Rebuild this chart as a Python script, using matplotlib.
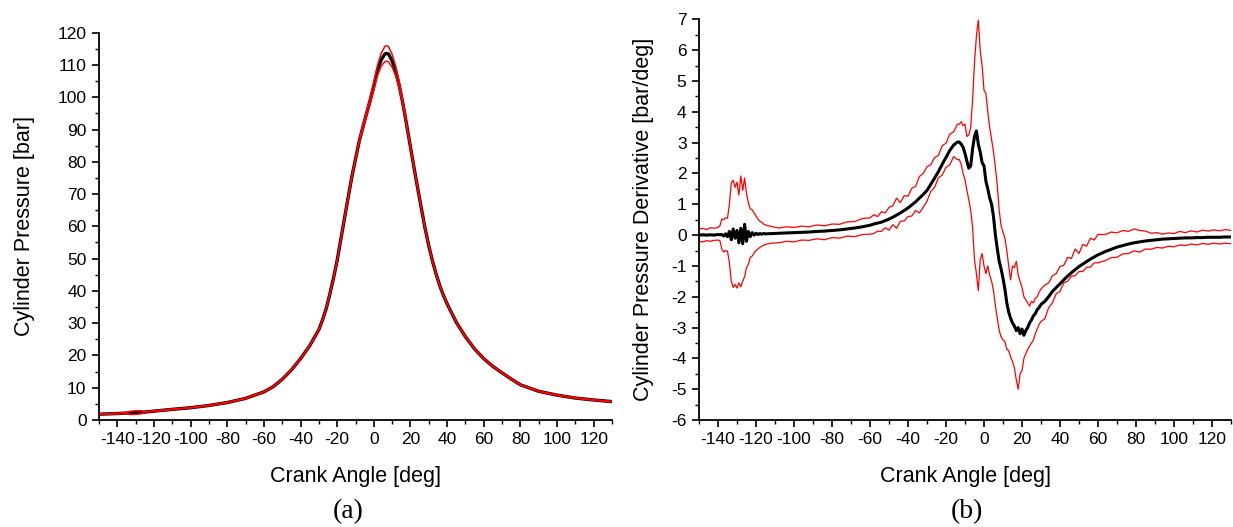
import matplotlib
matplotlib.use("Agg")
import matplotlib.pyplot as plt
from matplotlib.ticker import MultipleLocator

plt.rcParams['font.family'] = ['Liberation Sans', 'DejaVu Sans']
plt.rcParams['axes.unicode_minus'] = False

# ---------------- (a) cylinder pressure ----------------
p_angle = [-150, -140, -135, -133, -130, -127, -125, -120, -110, -100, -90, -80, -70, -60, -55, -50,
           -45, -40, -35, -30, -28, -26, -24, -22, -20, -18, -16, -14, -12, -10, -8, -5, -2, 0, 2, 4,
           6, 7, 8, 10, 12, 14, 16, 18, 20, 22, 24, 26, 28, 30, 32, 34, 36, 38, 40, 45, 50, 55, 60,
           65, 70, 75, 80, 90, 100, 110, 120, 130]
p_mean = [1.8, 2.0, 2.15, 2.2, 2.3, 2.4, 2.45, 2.75, 3.3, 3.8, 4.5, 5.4, 6.7, 8.7, 10.3, 12.6,
          15.5, 19.0, 23.0, 28.0, 31.0, 34.5, 39.0, 44.0, 49.5, 56.0, 62.5, 69.0, 75.3, 80.8, 86.3,
          92.8, 99.0, 103.5, 108.3, 111.6, 113.4, 113.6, 113.4, 111.3, 108.0, 103.3, 97.6, 91.2,
          84.6, 78.0, 71.6, 65.4, 59.3, 54.0, 49.3, 45.2, 41.6, 38.6, 36.0, 30.3, 25.8, 22.0, 19.0,
          16.6, 14.6, 12.7, 10.9, 8.9, 7.7, 6.8, 6.2, 5.7]
p_upper = [1.9, 2.1, 2.25, 2.7, 2.85, 2.9, 2.55, 2.85, 3.4, 3.9, 4.6, 5.5, 6.8, 8.8, 10.4, 12.7,
           15.6, 19.1, 23.1, 28.1, 31.1, 34.6, 39.1, 44.1, 49.6, 56.1, 62.7, 69.2, 75.6, 81.2, 86.8,
           93.6, 100.0, 104.7, 109.9, 113.6, 115.7, 116.0, 115.7, 113.3, 109.5, 104.3, 98.4, 91.8,
           85.1, 78.4, 71.9, 65.6, 59.5, 54.2, 49.4, 45.3, 41.7, 38.7, 36.1, 30.4, 25.9, 22.1, 19.1,
           16.7, 14.7, 12.8, 11.0, 9.0, 7.8, 6.9, 6.3, 5.8]
p_lower = [1.7, 1.9, 2.05, 1.7, 1.75, 1.9, 2.35, 2.65, 3.2, 3.7, 4.4, 5.3, 6.6, 8.6, 10.2, 12.5,
           15.4, 18.9, 22.9, 27.9, 30.9, 34.4, 38.9, 43.9, 49.4, 55.9, 62.3, 68.8, 75.0, 80.4, 85.8,
           92.0, 98.0, 102.3, 106.7, 109.6, 111.0, 111.2, 111.0, 109.3, 106.5, 102.3, 96.8, 90.6,
           84.1, 77.6, 71.3, 65.2, 59.1, 53.8, 49.2, 45.1, 41.5, 38.5, 35.9, 30.2, 25.7, 21.9, 18.9,
           16.5, 14.5, 12.6, 10.8, 8.8, 7.6, 6.7, 6.1, 5.6]

# ---------------- (b) pressure derivative ----------------
d_angle = [-150, -148, -146, -144, -142, -140,
           -139, -138, -137, -136, -135, -134, -133, -132, -131, -130, -129, -128, -127, -126,
           -125, -124, -123, -122, -121, -120, -119, -118, -117, -116, -115,
           -112, -108, -104, -100, -96, -92, -88, -84, -80, -76, -72, -68, -64, -60,
           -58, -56, -54, -52, -50, -48, -46, -44, -42, -40, -38, -36, -34, -32, -30, -28, -26,
           -24, -22, -20, -18, -16, -14,
           -13, -12, -11, -10, -9, -8, -7, -6, -5, -4, -3, -2, -1, 0, 1, 2, 3, 4, 5, 6, 7, 8, 9,
           10, 11, 12, 13, 14, 15, 16, 17, 18, 19, 20, 21, 22, 23, 24, 25, 26, 27, 28, 29, 30,
           32, 34, 36, 38, 40, 42, 44, 46, 48, 50, 52, 54, 56, 58, 60,
           64, 67, 70, 73, 76, 79, 82, 85, 88, 91, 94, 97, 100, 103, 106, 109, 112, 115, 118, 121,
           124, 127, 130]
d_mean = [0.0, 0.01, 0.0, 0.01, 0.0, 0.02,
          0.01, 0.02, -0.03, 0.04, -0.05, 0.12, -0.15, 0.2, -0.1, 0.15, -0.25, 0.22, -0.28, 0.35,
          -0.2, 0.12, -0.05, 0.08, 0.0, 0.06, 0.02, 0.05, 0.03, 0.05, 0.04,
          0.05, 0.06, 0.07, 0.08, 0.09, 0.1, 0.12, 0.13, 0.15, 0.17, 0.2, 0.23, 0.27, 0.32,
          0.36, 0.39, 0.42, 0.47, 0.52, 0.58, 0.65, 0.72, 0.8, 0.88, 0.98, 1.08, 1.2, 1.32, 1.45,
          1.65, 1.85, 2.06, 2.3, 2.52, 2.75, 2.92, 3.02,
          3.02, 2.95, 2.85, 2.65, 2.4, 2.17, 2.25, 2.8, 3.2, 3.38, 2.95, 2.7, 2.35, 2.25, 1.75,
          1.5, 1.2, 1.0, 0.6, 0.0, -0.45, -0.85, -1.1, -1.4, -1.75, -2.2, -2.5, -2.7, -2.85,
          -2.95, -3.1, -3.0, -3.2, -3.05, -3.25, -3.1, -3.0, -2.85, -2.75, -2.62, -2.55, -2.42,
          -2.35, -2.25,
          -2.15, -2.0, -1.83, -1.7, -1.58, -1.45, -1.33, -1.22, -1.12, -1.02, -0.94, -0.86, -0.78,
          -0.71, -0.64,
          -0.53, -0.46, -0.39, -0.34, -0.29, -0.25, -0.22, -0.19, -0.17, -0.15, -0.13, -0.12,
          -0.11, -0.1, -0.09, -0.09, -0.08, -0.08, -0.07, -0.07, -0.07, -0.06, -0.06]
d_upper = [0.2, 0.22, 0.18, 0.24, 0.22, 0.25,
           0.3, 0.52, 0.5, 0.56, 0.55, 1.0, 1.7, 1.78, 1.55, 1.72, 1.3, 1.92, 1.45, 1.85,
           1.35, 1.05, 0.85, 0.82, 0.72, 0.62, 0.52, 0.45, 0.42, 0.36, 0.33,
           0.28, 0.23, 0.27, 0.25, 0.29, 0.27, 0.33, 0.3, 0.36, 0.35, 0.43, 0.44, 0.54, 0.56,
           0.66, 0.6, 0.76, 0.72, 0.9, 0.95, 1.2, 1.05, 1.28, 1.26, 1.52, 1.58, 1.9, 2.0, 2.22,
           2.28, 2.52, 2.58, 2.9, 2.98, 3.28, 3.35, 3.6,
           3.6, 3.68, 3.55, 3.6, 3.2, 3.25, 3.5, 4.4, 5.6, 6.45, 6.98, 6.0, 5.5, 4.7, 4.6, 4.0,
           3.5, 3.1, 2.7, 2.2, 1.6, 0.8, 0.3, 0.1, -0.1, -0.5, -1.0, -1.45, -1.0, -1.05, -0.85,
           -1.3, -1.5, -1.7, -2.0, -2.1, -2.2, -2.3, -2.15, -2.2, -2.05, -2.0, -1.85, -1.75,
           -1.62, -1.55, -1.32, -1.25, -1.02, -0.98, -0.72, -0.76, -0.45, -0.6, -0.3, -0.36, -0.1,
           -0.16, 0.02,
           0.02, 0.1, 0.07, 0.15, 0.12, 0.2, 0.15, 0.13, 0.06, 0.08, 0.03, 0.07, 0.05, 0.12, 0.08,
           0.14, 0.1, 0.16, 0.13, 0.17, 0.14, 0.18, 0.15]
d_lower = [-0.2, -0.22, -0.18, -0.2, -0.17, -0.16,
           -0.18, -0.45, -0.55, -0.5, -0.52, -0.9, -1.5, -1.7, -1.6, -1.72, -1.55, -1.68, -1.5,
           -1.35, -1.05, -0.95, -0.72, -0.68, -0.58, -0.5, -0.45, -0.4, -0.36, -0.33, -0.3,
           -0.26, -0.25, -0.2, -0.22, -0.16, -0.17, -0.12, -0.15, -0.08, -0.1, -0.03, -0.05, 0.02,
           0.03,
           0.05, 0.13, 0.12, 0.24, 0.16, 0.34, 0.22, 0.45, 0.46, 0.6, 0.62, 0.8, 0.72, 0.9, 1.1,
           1.42, 1.55, 1.86, 1.95, 2.2, 2.28, 2.55, 2.45,
           2.45, 2.3, 2.0, 1.8, 1.45, 1.15, 0.8, 0.25, -0.8, -1.25, -1.8, -0.8, -0.6, -1.0, -1.25,
           -1.0, -1.3, -1.5, -1.8, -2.3, -2.7, -3.1, -3.3, -3.4, -3.45, -3.7, -3.75, -3.95, -4.1,
           -4.3, -4.7, -5.0, -4.5, -4.4, -4.0, -3.85, -3.7, -3.6, -3.5, -3.4, -3.2, -3.05, -2.9,
           -2.8,
           -2.72, -2.36, -2.2, -1.9, -1.83, -1.55, -1.5, -1.33, -1.32, -1.18, -1.18, -1.04, -1.04,
           -0.9, -0.9,
           -0.82, -0.73, -0.72, -0.61, -0.6, -0.51, -0.55, -0.45, -0.46, -0.4, -0.42, -0.36, -0.38,
           -0.32, -0.34, -0.29, -0.32, -0.27, -0.3, -0.26, -0.29, -0.26, -0.28]

x_ticks = [-140, -120, -100, -80, -60, -40, -20, 0, 20, 40, 60, 80, 100, 120]

W, H = 1233, 527
fig = plt.figure(figsize=(W / 100, H / 100), dpi=100)

ax1 = fig.add_axes([99 / W, 1 - 420 / H, 513 / W, (420 - 32.7) / H])
ax2 = fig.add_axes([699 / W, 1 - 420 / H, 532 / W, (420 - 19.4) / H])


def style(ax):
    for s in ['top', 'right']:
        ax.spines[s].set_visible(False)
    for s in ['left', 'bottom']:
        ax.spines[s].set_linewidth(1.3)
    ax.tick_params(which='major', direction='out', length=5, width=1.2, labelsize=12.5, pad=4)
    ax.tick_params(which='minor', direction='out', length=3, width=1.0)
    ax.set_xlim(-150, 130)
    ax.set_xticks(x_ticks)
    ax.xaxis.set_minor_locator(MultipleLocator(10))


ax1.plot(p_angle, p_mean, color='black', lw=2.4, zorder=2)
ax1.plot(p_angle, p_upper, color='#ff0000', lw=1.1, zorder=3)
ax1.plot(p_angle, p_lower, color='#ff0000', lw=1.1, zorder=3)
style(ax1)
ax1.set_ylim(0, 120)
ax1.yaxis.set_major_locator(MultipleLocator(10))
ax1.yaxis.set_minor_locator(MultipleLocator(5))
ax1.set_xlabel('Crank Angle [deg]', fontsize=15.5, labelpad=13)
ax1.set_ylabel('Cylinder Pressure [bar]', fontsize=15.5, labelpad=16)

ax2.plot(d_angle, d_upper, color='#ff0000', lw=0.9, zorder=2)
ax2.plot(d_angle, d_lower, color='#ff0000', lw=0.9, zorder=2)
ax2.plot(d_angle, d_mean, color='black', lw=2.2, zorder=3)
style(ax2)
ax2.set_ylim(-6, 7)
ax2.yaxis.set_major_locator(MultipleLocator(1))
ax2.yaxis.set_minor_locator(MultipleLocator(0.5))
ax2.set_xlabel('Crank Angle [deg]', fontsize=15.5, labelpad=13)
ax2.set_ylabel('Cylinder Pressure Derivative [bar/deg]', fontsize=15.5, labelpad=12)

fig.text(348 / W, 1 - 512 / H, '(a)', ha='center', va='center', fontsize=20,
         family=['Liberation Serif', 'DejaVu Serif'])
fig.text(967 / W, 1 - 512 / H, '(b)', ha='center', va='center', fontsize=20,
         family=['Liberation Serif', 'DejaVu Serif'])

fig.savefig('out.png', dpi=100)
